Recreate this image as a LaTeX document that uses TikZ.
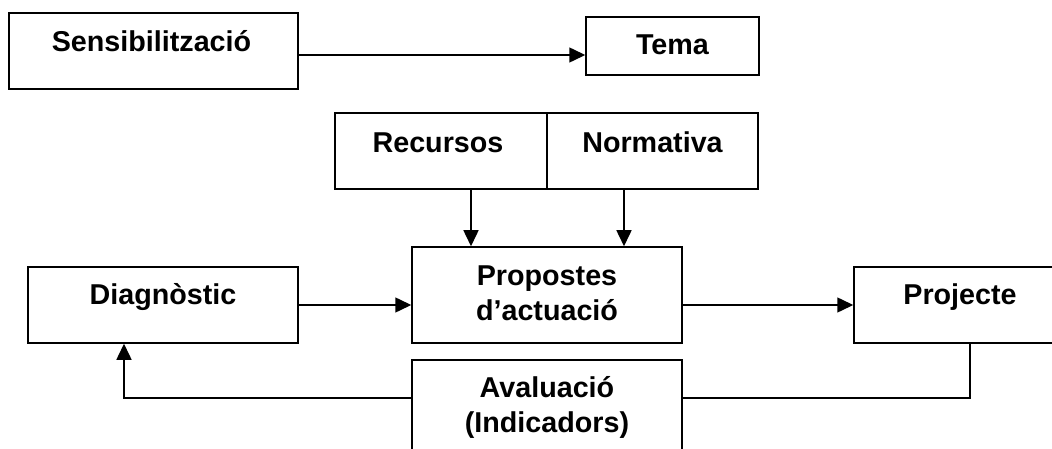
\documentclass[tikz,border=0pt]{standalone}
\usepackage{fontspec}
\setmainfont{Liberation Sans}
\usetikzlibrary{arrows.meta}
\tikzset{
  caixa/.style={rectangle, draw=black, line width=1.5pt, inner sep=0pt},
  rotul/.style={inner sep=0pt, font=\fontsize{28.7pt}{35pt}\selectfont\bfseries, align=center},
  fletxa/.style={line width=1.5pt, -{Triangle[length=16pt,width=15pt]}}
}
\begin{document}
\begin{tikzpicture}[x=1pt,y=-1pt]
        \useasboundingbox (0,0) rectangle (1052,449);
        \clip (0,0) rectangle (1052,449);

        \node[caixa, minimum width=289pt, minimum height=76pt] (sens) at (153.5,51) {};
        \node[caixa, minimum width=173pt, minimum height=58pt] (tema) at (672.5,46) {};
        \node[rotul, anchor=base] (sens-txt) at ([xshift=-2pt,yshift=-1pt]sens.center) {Sensibilització};
        \node[rotul, anchor=base] (tema-txt) at ([yshift=-9pt]tema.center) {Tema};
        \coordinate (sens-out) at ([yshift=-4pt]sens.east);
        \draw [fletxa] (sens-out) -- (sens-out -| tema.west);

        \node[caixa, minimum width=212pt, minimum height=76pt] (recursos) at (441,151) {};
        \node[caixa, minimum width=211pt, minimum height=76pt] (normativa) at (652.5,151) {};
        \node[rotul, anchor=base] (recursos-txt) at ([xshift=-3pt,yshift=-2pt]recursos.center) {Recursos};
        \node[rotul, anchor=base] (normativa-txt) at ([yshift=-2pt]normativa.center) {Normativa};

        \node[caixa, minimum width=270pt, minimum height=96pt] (propostes) at (547,295) {};
        \node[rotul, anchor=base] (propostes-txt) at ([yshift=-25pt]propostes.center) {Propostes\\d’actuació};
        \coordinate (recursos-out) at ([xshift=30pt]recursos.south);
        \coordinate (normativa-out) at ([xshift=-28.5pt]normativa.south);
        \draw [fletxa] (recursos-out) -- (recursos-out |- propostes.north);
        \draw [fletxa] (normativa-out) -- (normativa-out |- propostes.north);

        \node[caixa, minimum width=270pt, minimum height=76pt] (diag) at (163,305) {};
        \node[rotul, anchor=base] (diag-txt) at ([yshift=1pt]diag.center) {Diagnòstic};
        \draw [fletxa] (diag.east) -- (diag.east -| propostes.west);

        \node[caixa, minimum width=212pt, minimum height=76pt] (proj) at (960,305) {};
        \node[rotul, anchor=base] (proj-txt) at ([yshift=1pt]proj.center) {Projecte};
        \draw [fletxa] (proj.west -| propostes.east) -- (proj.west);

        \node[caixa, minimum width=270pt, minimum height=110pt] (avaluacio) at (547,415) {};
        \node[rotul, anchor=base] (avaluacio-txt) at ([yshift=-17pt]avaluacio.center) {Avaluació\\(Indicadors)};

        \coordinate (retorn) at (547,398);
        \coordinate (proj-out) at ([xshift=10pt]proj.south);
        \coordinate (diag-in) at ([xshift=-39pt]diag.south);
        \draw [line width=1.5pt] (proj-out) |- (retorn -| avaluacio.east);
        \draw [fletxa] (retorn -| avaluacio.west) -| (diag-in);

      \end{tikzpicture}
\end{document}
